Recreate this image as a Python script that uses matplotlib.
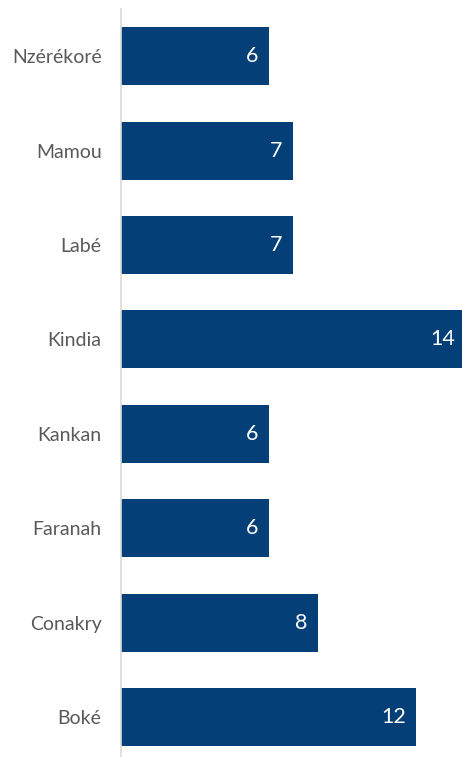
import matplotlib
matplotlib.use("Agg")
import matplotlib.pyplot as plt

categories = ["Boké", "Conakry", "Faranah", "Kankan", "Kindia", "Labé", "Mamou", "Nzérékoré"]
values = [12, 8, 6, 6, 14, 7, 7, 6]

plt.rcParams['font.family'] = ['Lato', 'DejaVu Sans']

fig = plt.figure(figsize=(4.62, 7.57), dpi=100)
ax = fig.add_axes([121/462, 0, 1 - 121/462, (757 - 9)/757])

bar_color = "#043F77"
pos = list(range(len(categories)))
ax.barh(pos, values, height=0.615, color=bar_color)

for p, v in zip(pos, values):
    ax.text(v - 0.42, p, str(v), ha='right', va='center', color='white', fontsize=15.5)

ax.set_xlim(0, 13.87)
ax.set_ylim(-0.424, 7.5)
ax.set_yticks(pos)
ax.set_yticklabels(categories, fontsize=14, color='#595959')
ax.tick_params(axis='y', length=0, pad=14)
ax.set_xticks([])
for s in ['top', 'right', 'bottom']:
    ax.spines[s].set_visible(False)
ax.spines['left'].set_color('#d9d9d9')
ax.spines['left'].set_linewidth(1.2)
ax.patch.set_visible(False)

fig.savefig("out.png", dpi=100)
